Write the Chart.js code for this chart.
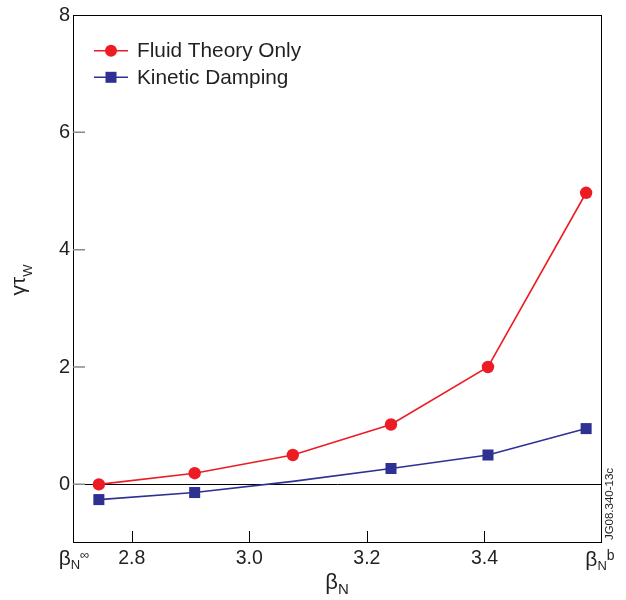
<!DOCTYPE html>
<html>
<head>
<meta charset="utf-8">
<script src="https://cdn.jsdelivr.net/npm/chart.js@4.4.1/dist/chart.umd.min.js"></script>
<style>
  html, body { margin: 0; padding: 0; background: #fff; }
  #wrap { width: 626px; height: 600px; }
</style>
</head>
<body>
<div id="wrap"><canvas id="chart"></canvas></div>
<script>
// values
const betaN = [2.744, 2.907, 3.074, 3.241, 3.406, 3.573];
const fluidOnly = [0.0, 0.19, 0.5, 1.02, 2.0, 4.97];
const kinetic = [-0.26, -0.14, 0.05, 0.27, 0.5, 0.95];
const kineticMarker = [7.8, 7.8, 0, 7.8, 7.8, 7.8]; // middle point has no marker
const xTicks = [2.8, 3.0, 3.2, 3.4];
const yTicks = [0, 2, 4, 6, 8];
const seriesNames = ["Fluid Theory Only", "Kinetic Damping"];

const FONT = '"Liberation Sans", Arial, Helvetica, sans-serif';
const TXT = '#231F20';
const RED = '#ED1C24';
const BLUE = '#2E3192';

function pts(ys) {
    return betaN.map((x, i) => ({ x: x, y: ys[i] }));
}

// draw text pieces (base, subscript, superscript) centred on cx
function richText(ctx, parts, cx, baseY) {
    let total = 0;
    parts.forEach(p => {
        ctx.font = p.size + 'px ' + FONT;
        p.w = ctx.measureText(p.t).width;
        total += p.w;
    });
    let x = cx - total / 2;
    ctx.textAlign = 'left';
    ctx.textBaseline = 'alphabetic';
    parts.forEach(p => {
        ctx.font = p.size + 'px ' + FONT;
        ctx.fillText(p.t, x, baseY + (p.dy || 0));
        x += p.w;
    });
}

const decorPlugin = {
    id: 'decor',
    afterDraw(chart) {
        const ctx = chart.ctx;
        const a = chart.chartArea;
        const xs = chart.scales.x;
        const ys = chart.scales.y;
        ctx.save();

        // frame
        ctx.strokeStyle = '#000';
        ctx.lineWidth = 1;
        ctx.strokeRect(a.left + 0.5, a.top + 0.5, a.right - a.left - 1, a.bottom - a.top - 1);

        // inner ticks on x
        ctx.beginPath();
        xTicks.forEach(v => {
            const px = Math.round(xs.getPixelForValue(v)) + 0.5;
            ctx.moveTo(px, a.bottom);
            ctx.lineTo(px, a.bottom - 12);
        });
        ctx.stroke();

        // inner ticks on y (grey)
        ctx.strokeStyle = '#8a8a8a';
        ctx.lineWidth = 1.5;
        ctx.beginPath();
        yTicks.slice(0, -1).forEach(v => {
            const py = ys.getPixelForValue(v);
            ctx.moveTo(a.left, py);
            ctx.lineTo(a.left + 12, py);
        });
        ctx.stroke();

        ctx.fillStyle = TXT;

        // end labels of the x axis
        richText(ctx, [
            { t: 'β', size: 21 },
            { t: 'N', size: 13, dy: 4 },
            { t: '∞', size: 13, dy: -6 }
        ], xs.getPixelForValue(2.7) + 1, 565);
        richText(ctx, [
            { t: 'β', size: 21 },
            { t: 'N', size: 13, dy: 4 },
            { t: 'b', size: 14, dy: -6 }
        ], xs.getPixelForValue(3.6) - 2, 566);

        // axis titles
        richText(ctx, [
            { t: 'β', size: 22 },
            { t: 'N', size: 15, dy: 5 }
        ], 337, 589);

        ctx.save();
        ctx.translate(25, 280);
        ctx.rotate(-Math.PI / 2);
        richText(ctx, [
            { t: 'γτ', size: 21 },
            { t: 'W', size: 13, dy: 7 }
        ], 0, 0);
        ctx.restore();

        // figure id
        ctx.save();
        ctx.translate(610, 504);
        ctx.rotate(-Math.PI / 2);
        ctx.font = '11.5px ' + FONT;
        ctx.textAlign = 'center';
        ctx.textBaseline = 'middle';
        ctx.fillText('JG08.340-13c', 0, 0);
        ctx.restore();

        // legend
        const rows = [50.7, 77.3];
        chart.data.datasets.forEach((ds, i) => {
            const y = rows[i];
            ctx.strokeStyle = ds.borderColor;
            ctx.lineWidth = 1.5;
            ctx.beginPath();
            ctx.moveTo(94, y);
            ctx.lineTo(128, y);
            ctx.stroke();
            ctx.fillStyle = ds.backgroundColor;
            if (ds.pointStyle === 'rect') {
                ctx.fillRect(105.5, y - 5.5, 11, 11);
            } else {
                ctx.beginPath();
                ctx.arc(111, y, 6, 0, Math.PI * 2);
                ctx.fill();
            }
            ctx.fillStyle = TXT;
            ctx.font = '20.8px ' + FONT;
            ctx.textAlign = 'left';
            ctx.textBaseline = 'middle';
            ctx.fillText(ds.label, 137, y + 1);
        });

        ctx.restore();
    }
};

const chart = new Chart(document.getElementById('chart'), {
    type: 'line',
    data: {
        datasets: [
            {
                label: seriesNames[0],
                data: pts(fluidOnly),
                borderColor: RED,
                backgroundColor: RED,
                borderWidth: 1.6,
                pointStyle: 'circle',
                pointRadius: 6.2,
                pointBorderWidth: 0,
                tension: 0
            },
            {
                label: seriesNames[1],
                data: pts(kinetic),
                borderColor: BLUE,
                backgroundColor: BLUE,
                borderWidth: 1.6,
                pointStyle: 'rect',
                pointRadius: kineticMarker,
                pointBorderWidth: 0,
                tension: 0
            }
        ]
    },
    options: {
        responsive: true,
        maintainAspectRatio: false,
        animation: false,
        layout: { padding: { top: 15, right: 24, left: 0, bottom: 0 } },
        plugins: {
            legend: { display: false },
            tooltip: { enabled: false }
        },
        scales: {
            x: {
                type: 'linear',
                min: 2.7,
                max: 3.6,
                afterBuildTicks: s => { s.ticks = xTicks.map(v => ({ value: v })); },
                afterFit: s => { s.height = 57; },
                grid: { display: false },
                border: { display: false },
                ticks: {
                    autoSkip: false,
                    maxRotation: 0,
                    padding: -4,
                    color: TXT,
                    font: { family: FONT, size: 19.5 },
                    callback: v => v.toFixed(1)
                }
            },
            y: {
                min: -1,
                max: 8,
                afterBuildTicks: s => { s.ticks = yTicks.map(v => ({ value: v })); },
                afterFit: s => { s.width = 73; },
                grid: {
                    drawTicks: false,
                    lineWidth: 1,
                    color: c => (c.tick && c.tick.value === 0) ? '#000' : 'rgba(0,0,0,0)'
                },
                border: { display: false },
                ticks: {
                    padding: 3,
                    color: TXT,
                    font: { family: FONT, size: 20 }
                }
            }
        }
    },
    plugins: [decorPlugin]
});
</script>
</body>
</html>
